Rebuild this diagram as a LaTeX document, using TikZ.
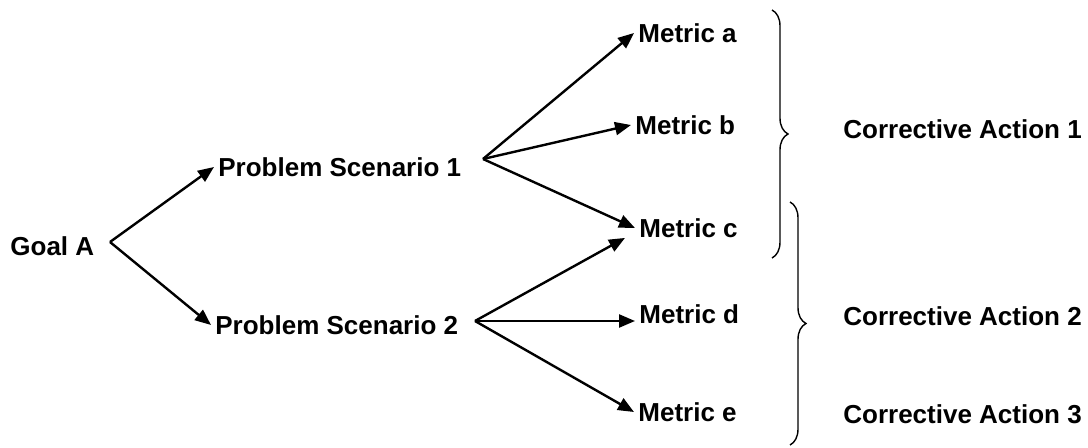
\documentclass[tikz,border=0pt]{standalone}
\usepackage{fontspec}
\setmainfont{Liberation Sans}
\usetikzlibrary{arrows.meta,decorations.pathreplacing}

\tikzset{
  lbl/.style={font=\fontsize{13}{15}\selectfont\bfseries, inner sep=2pt, anchor=west},
  arr/.style={-{Triangle[length=8pt,width=6.5pt]}, line width=1.2pt},
  brc/.style={decorate, decoration={brace,amplitude=8pt}, line width=0.7pt}
}

\begin{document}
\begin{tikzpicture}[x=0.5pt,y=-0.5pt]
\useasboundingbox (0,0) rectangle (1088,448);
%\draw[very thin,color=gray,step=50] (0,0) grid (1088,448);
\node[lbl] (goal) at (6,246) {Goal A};
\node[lbl] (ps1) at (214,167) {Problem Scenario 1};
\node[lbl] (ps2) at (211,325) {Problem Scenario 2};
\node[lbl] (ma) at (634,33) {Metric a};
\node[lbl] (mb) at (631,125) {Metric b};
\node[lbl] (mc) at (635,228) {Metric c};
\node[lbl] (md) at (635,314) {Metric d};
\node[lbl] (me) at (634,412) {Metric e};
\node[lbl] (ca1) at (839,129) {Corrective Action 1};
\node[lbl] (ca2) at (839,316) {Corrective Action 2};
\node[lbl] (ca3) at (839,414) {Corrective Action 3};
\coordinate (goalout) at (110,242);
\coordinate (p1out) at (483,159);
\coordinate (p2out) at (475,321);
\draw[arr] (goalout) -- (ps1.west);
\draw[arr] (goalout) -- (ps2.west);
\draw[arr] (p1out) -- (ma.west);
\draw[arr] (p1out) -- (mb.west);
\draw[arr] (p1out) -- (mc.west);
\draw[arr] (p2out) -- ([xshift=-5pt,yshift=2pt]mc.south west);
\draw[arr] (p2out) -- (p2out -| md.west);
\draw[arr] (p2out) -- (me.west);
\draw[brc] (772,10) -- (772,258);
\draw[brc] (790,202) -- (790,445);
\end{tikzpicture}
\end{document}
